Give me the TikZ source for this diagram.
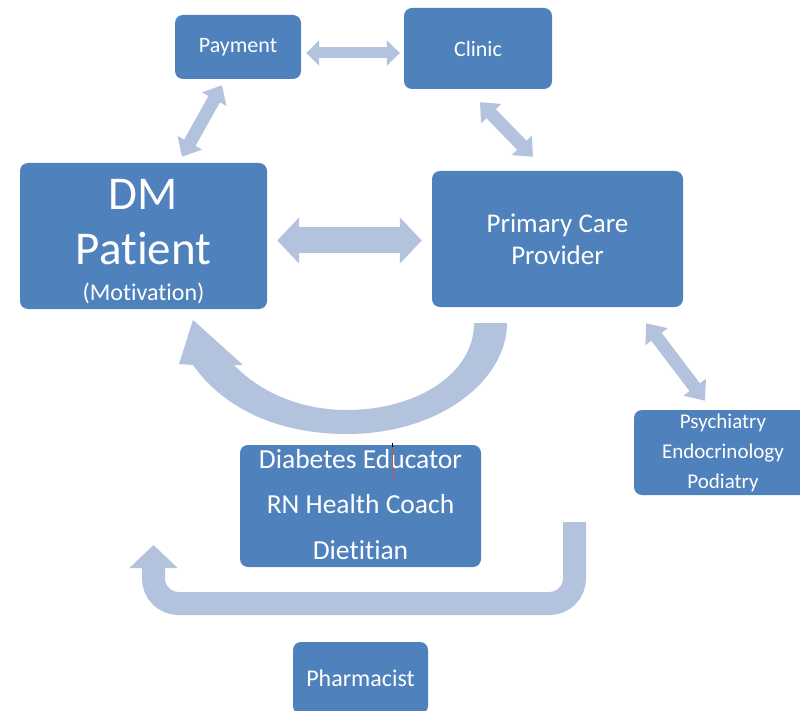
\documentclass[tikz,border=0pt]{standalone}
\usepackage{fontspec}
\setmainfont{Carlito}[Ligatures=NoCommon]
\usetikzlibrary{arrows.meta}
\definecolor{boxblue}{HTML}{4F81BD}
\definecolor{arrowc}{RGB}{179,194,221}
\definecolor{cursorc}{RGB}{190,90,60}
\begin{document}
\begin{tikzpicture}[x=1pt,y=-1pt,
  box/.style={fill=boxblue, rounded corners=8pt, text=white, align=center, inner sep=0pt},
  dblarrow/.style n args={3}{draw=arrowc, line width=#1, {Triangle[length=#3,width=#2]}-{Triangle[length=#3,width=#2]}},
  bigarrow/.style={fill=arrowc, draw=none},
]
\useasboundingbox (0,0) rectangle (800,711);

% boxes
\node[box, minimum width=126pt, minimum height=64pt, font=\fontsize{22}{26}\selectfont] (pay) at (238,47) {Payment};
\node[box, minimum width=148pt, minimum height=81pt, font=\fontsize{22}{26}\selectfont] (clin) at (478,48.5) {Clinic};
\node[box, minimum width=247pt, minimum height=146pt, font=\fontsize{47}{55}\selectfont] (dm) at (143.5,236) {\rule{0pt}{41pt}DM\\Patient\\[-19pt]{\fontsize{24}{29}\selectfont (Motivation)}};
\node[box, minimum width=251pt, minimum height=136pt, font=\fontsize{27}{32}\selectfont] (pcp) at (557.5,239) {\rule{0pt}{19pt}Primary Care\\Provider};
\node[box, minimum width=178pt, minimum height=85pt, font=\fontsize{21}{30}\selectfont] (psy) at (723,452.5) {Psychiatry\\Endocrinology\\Podiatry};
\node[box, minimum width=241pt, minimum height=122pt, font=\fontsize{27.5}{45.5}\selectfont] (edu) at (360.5,506) {Diabetes Educator\\RN Health Coach\\Dietitian\rule[-4pt]{0pt}{4pt}};
\node[box, minimum width=135pt, minimum height=72pt, font=\fontsize{24}{28}\selectfont] (pharm) at (360.5,678) {Pharmacist};

% double arrows
\draw[dblarrow={11pt}{25pt}{13pt}] ([xshift=5pt,yshift=-6pt]pay.east) -- ([xshift=-4pt,yshift=-4.5pt]clin.west);
\draw[dblarrow={13pt}{27pt}{16pt}] ([xshift=-16pt,yshift=-6pt]pay.south) -- ([xshift=38.5pt,yshift=6pt]dm.north);
\draw[dblarrow={13pt}{27pt}{16pt}] ([xshift=2pt,yshift=-13pt]clin.south) -- ([xshift=-24.5pt,yshift=14pt]pcp.north);
\draw[dblarrow={26pt}{45pt}{22pt}] ([xshift=10pt,yshift=-4.5pt]dm.east) -- ([xshift=-10pt,yshift=-1.5pt]pcp.west);
\draw[dblarrow={13pt}{27pt}{17pt}] ([xshift=-37pt,yshift=-16pt]pcp.south east) -- ([xshift=-18pt,yshift=9pt]psy.north);

% curved arrow from PCP back to patient
\fill[bigarrow] (474,323) -- (507,323) .. controls (507,380) and (440,434) .. (347,434)
  .. controls (280,434) and (225,410) .. (193,365) -- (179,364) -- (193,320) -- (243,365) -- (234,365)
  .. controls (260,392) and (300,410) .. (347,410) .. controls (415,410) and (474,375) .. (474,323) -- cycle;

% U-shaped arrow
\coordinate (ustart) at (574.5,522);
\coordinate (uend) at (153.5,545);
\draw[draw=arrowc, line width=23pt, rounded corners=25pt, -{Triangle[length=23pt,width=47pt]}]
  (ustart) -- (574.5,603.5) -- (153.5,603.5) -- (uend);

% text cursor mark
\draw[cursorc, line width=1pt] (392,447) -- (392,478);
\draw[black, line width=1pt] (392,443) -- (392,447);
\end{tikzpicture}
\end{document}
